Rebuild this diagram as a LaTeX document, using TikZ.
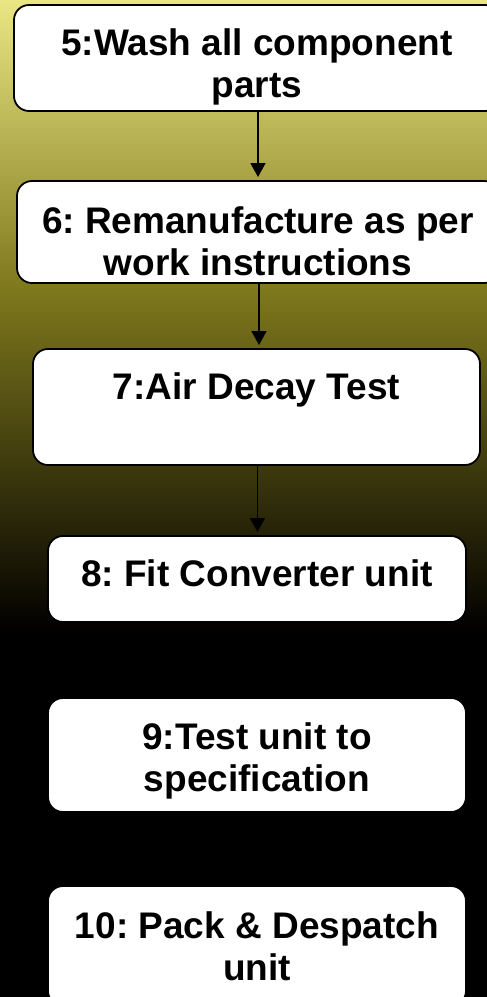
\documentclass[tikz,border=0pt]{standalone}
\usepackage{fontspec}
\setmainfont{Liberation Sans}
\frenchspacing
\usetikzlibrary{arrows.meta}
\definecolor{bgtop}{RGB}{234,230,132}
\definecolor{bgmid}{RGB}{126,120,28}
\definecolor{bglow}{RGB}{2,0,0}
\begin{document}
\begin{tikzpicture}[x=1pt,y=-1pt,outer sep=0pt,
	step_box/.style={draw=black, line width=1.8pt, fill=white, rounded corners=15pt, align=center, inner sep=0pt, font=\fontsize{37}{42}\selectfont\bfseries},
	flow_arrow/.style={line width=1.8pt, -{Triangle[length=14pt,width=15pt]}, shorten >=4pt}]
	\useasboundingbox (0,0) rectangle (487,997);
	\clip (0,0) rectangle (487,997);
	%%% background
	\shade[top color=bgtop, bottom color=bgmid] (0,0) rectangle (487,290);
	\shade[top color=bgmid, bottom color=bglow] (0,290) rectangle (487,630);
	\fill[black] (0,629) rectangle (487,997);
	%%% steps
	\node[step_box, minimum width=486pt, minimum height=106pt] (wash) at (257,58) {\rule{0pt}{45pt}5:Wash all component\\parts};
	\node[step_box, minimum width=482pt, minimum height=102pt] (reman) at (258,232) {\rule{0pt}{45pt}6: Remanufacture as per\\work instructions};
	\node[step_box, minimum width=447pt, minimum height=116pt] (decay) at (256.5,407) {7:Air Decay Test\\\mbox{}};
	\node[step_box, minimum width=418pt, minimum height=86pt, text depth=12pt] (fit) at (257,579) {8: Fit Converter unit};
	\node[step_box, minimum width=418pt, minimum height=114pt] (test) at (257,755) {\rule{0pt}{39pt}9:Test unit to\\specification};
	\node[step_box, minimum width=418pt, minimum height=120pt] (pack) at (257,946) {10: Pack \& Despatch\\unit};
	%%% connectors
	\foreach \a/\b in {wash/reman,reman/decay,decay/fit}{
		\draw[flow_arrow] ([xshift=1pt]\a.south) -- ([xshift=1pt]\a.south |- \b.north);
	}
\end{tikzpicture}
\end{document}
